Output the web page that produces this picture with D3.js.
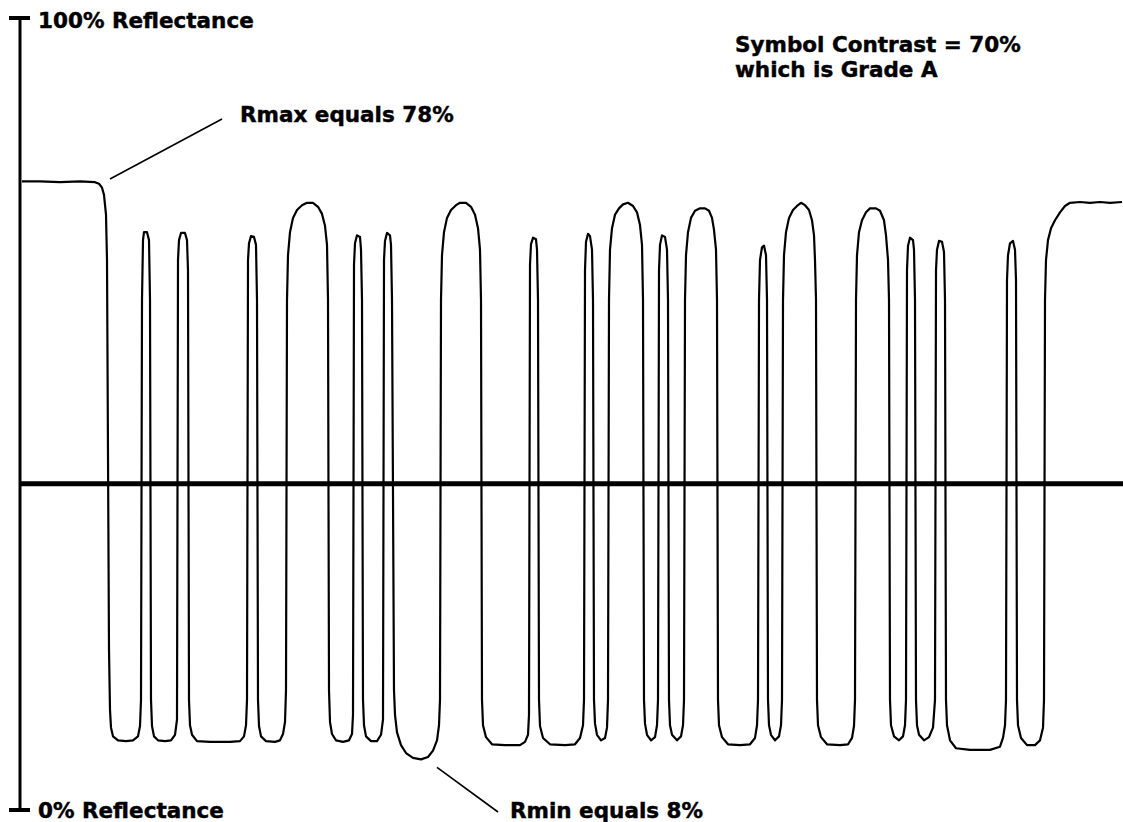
<!DOCTYPE html>
<html>
<head>
<meta charset="utf-8">
<script src="https://cdn.jsdelivr.net/npm/d3@7"></script>
<style>
  html, body { margin: 0; padding: 0; background: #fff; }
  svg { display: block; }
  text { font-family: "DejaVu Sans", Verdana, sans-serif; font-weight: bold; fill: #000; stroke: #000; stroke-width: 0.45px; }
</style>
</head>
<body>
<svg id="chart" width="1123" height="822"></svg>
<script>
// ---- Data ----
// Scan position (samples along the scan line) vs reflectance (%)
const scanProfile = [
  [2,79.3],[20,79.3],[40,79.2],[60,79.3],[75,79.2],[79,79.0],[82,78.5],[84,77.6],[86,75.1],[87,69.4],
  [89,20.3],[90,12.7],[91,10.5],[93,9.4],[98,8.9],[106,8.8],[113,8.9],[118,9.4],[120,10.7],[121,14.0],
  [122,64.4],[123,71.9],[124,72.9],[127,72.9],[129,71.9],[130,64.4],[131,14.0],[132,10.7],[134,9.4],[138,8.9],
  [145,8.8],[151,8.9],[155,9.6],[157,11.5],
  [158,69.4],[159,71.9],[161,72.8],[165,72.8],[167,71.9],[168,68.1],[169,14.0],[170,10.8],[172,9.6],[177,8.8],
  [190,8.7],[210,8.7],[220,8.8],[224,9.4],[226,10.8],[227,14.0],
  [228,69.4],[229,71.5],[231,72.4],[234,72.3],[236,71.3],[237,64.4],[238,14.0],[239,10.7],[241,9.4],[246,8.8],
  [255,8.7],[260,8.9],[263,9.7],[265,11.2],[266,15.2],
  [267,64.4],[268,70.0],[270,72.9],[273,74.7],[277,75.7],[282,76.3],[287,76.6],[293,76.6],[298,76.1],[302,75.2],
  [305,73.7],[307,71.3],[308,64.4],[309,15.2],[310,11.2],[312,9.7],[316,8.9],[323,8.7],[329,8.9],[332,9.7],[333,12.1],
  [334,68.8],[335,71.5],[337,72.5],[340,72.3],[341,70.7],[342,64.4],[343,14.0],[344,10.8],[346,9.4],[351,8.8],
  [357,8.8],[361,9.6],[363,11.5],
  [364,69.4],[365,71.8],[367,72.8],[370,72.5],[371,71.3],[372,64.4],[374,15.2],[375,12.1],[377,9.9],[381,8.3],
  [386,7.3],[393,6.7],[401,6.5],[408,6.8],[413,7.6],[417,8.9],[419,10.8],[420,14.0],
  [421,64.4],[422,70.0],[424,72.9],[427,74.7],[431,75.7],[436,76.3],[440,76.6],[446,76.6],[451,76.1],[455,75.1],
  [458,73.4],[460,70.7],[461,64.4],[462,14.0],[463,10.8],[466,9.3],[472,8.4],[485,8.3],[500,8.3],[505,8.7],
  [508,9.6],[509,12.1],
  [510,68.8],[511,71.4],[513,72.2],[516,72.0],[517,70.7],[518,64.4],[519,14.0],[520,10.7],[523,9.2],[530,8.4],
  [545,8.3],[555,8.4],[560,9.2],[563,10.8],[564,14.0],
  [565,68.1],[566,71.7],[568,72.7],[570,72.4],[572,70.7],[573,64.4],[574,14.0],[575,11.0],[577,9.6],[581,8.9],
  [585,9.2],[587,10.5],[588,14.0],
  [589,64.4],[590,70.7],[592,73.4],[595,75.1],[599,75.9],[603,76.4],[608,76.6],[613,76.2],[617,75.4],[620,73.8],
  [622,71.3],[623,64.4],[624,14.0],[625,11.0],[627,9.6],[631,8.9],[635,9.3],[637,10.8],[638,14.0],
  [639,68.1],[640,71.3],[642,72.5],[645,72.3],[647,70.7],[648,64.4],[649,14.0],[650,10.8],[652,9.6],[657,8.9],
  [661,9.4],[663,10.8],[664,14.0],
  [665,64.4],[666,70.0],[668,72.9],[671,74.7],[675,75.6],[680,75.9],[685,75.9],[689,75.6],[692,74.7],[694,73.2],
  [696,70.7],[697,64.4],[698,14.0],[699,10.8],[702,9.3],[708,8.4],[720,8.3],[730,8.4],[735,9.2],[737,10.8],[738,14.0],
  [739,64.4],[740,69.4],[742,71.0],[744,71.2],[746,70.0],[747,64.4],[748,14.0],[749,10.8],[751,9.6],[755,8.9],
  [759,9.4],[761,10.8],[762,14.0],
  [763,64.4],[764,70.0],[766,72.9],[769,74.7],[773,75.7],[777,76.2],[781,76.6],[785,76.3],[789,75.7],[792,74.4],
  [794,72.5],[795,69.4],[796,64.4],[797,14.0],[798,10.8],[801,9.3],[807,8.4],[820,8.3],[828,8.4],[832,9.2],
  [834,10.7],[835,14.0],
  [836,64.4],[837,70.0],[839,72.9],[842,74.4],[846,75.4],[850,75.9],[856,75.9],[860,75.6],[864,74.4],[866,72.5],
  [868,69.4],[869,64.4],[870,14.0],[871,10.8],[874,9.4],[879,8.9],[883,9.4],[885,10.8],[886,14.0],
  [887,68.1],[888,71.2],[890,72.2],[893,71.9],[894,70.7],[895,64.4],[896,14.0],[897,10.8],[899,9.6],[904,8.9],
  [909,9.3],[913,10.5],[915,14.0],
  [916,68.1],[917,70.7],[919,71.8],[922,71.7],[924,70.4],[925,64.4],[926,14.0],[927,10.8],[930,8.9],[936,7.9],
  [950,7.7],[970,7.7],[980,8.1],[983,9.2],[985,10.8],[986,14.0],
  [987,66.9],[988,70.0],[990,71.5],[993,71.8],[995,70.7],[996,66.9],[997,14.0],[998,10.8],[1001,9.2],[1007,8.3],
  [1015,8.3],[1020,8.9],[1023,10.5],[1024,14.0],
  [1025,64.4],[1026,69.4],[1028,71.9],[1031,73.4],[1035,74.4],[1040,75.4],[1045,76.2],[1050,76.6],[1060,76.7],
  [1070,76.6],[1080,76.7],[1090,76.6],[1102,76.7]
];

const axisTicks = [100, 0];
const axisTickLabels = ["100% Reflectance", "0% Reflectance"];
const threshold = 41.2;           // global threshold line (%)
const rmaxPoint = [90, 79.6];     // where the Rmax pointer touches the profile
const rminPoint = [417, 5.5];     // where the Rmin pointer touches the profile
const rmaxLabel = "Rmax equals 78%";
const rminLabel = "Rmin equals 8%";
const contrastLines = ["Symbol Contrast = 70%", "which is Grade A"];

// ---- Scales ----
const svg = d3.select("#chart");
const x = d3.scaleLinear().domain([0, 1103]).range([20, 1123]);
const y = d3.scaleLinear().domain([0, 100]).range([811, 17]);
const FS = 21.5;

// ---- Vertical axis with T tick ends ----
svg.append("line")
  .attr("x1", x(0)).attr("x2", x(0))
  .attr("y1", y(100)).attr("y2", y(0))
  .attr("stroke", "#000").attr("stroke-width", 3);

svg.selectAll("line.tick").data(axisTicks).join("line")
  .attr("class", "tick")
  .attr("x1", x(0) - 11).attr("x2", x(0) + 10)
  .attr("y1", d => y(d) + (d === 100 ? 1 : -1))
  .attr("y2", d => y(d) + (d === 100 ? 1 : -1))
  .attr("stroke", "#000").attr("stroke-width", 4);

svg.selectAll("text.ticklab").data(axisTicks).join("text")
  .attr("class", "ticklab")
  .attr("x", x(0) + 18)
  .attr("y", (d, i) => i === 0 ? 28 : 818)
  .attr("font-size", FS)
  .text((d, i) => axisTickLabels[i]);

// ---- Threshold line ----
svg.append("line")
  .attr("x1", x(0)).attr("x2", x(1103))
  .attr("y1", y(threshold)).attr("y2", y(threshold))
  .attr("stroke", "#000").attr("stroke-width", 5);

// ---- Reflectance profile ----
const line = d3.line()
  .x(d => x(d[0]))
  .y(d => y(d[1]))
  .curve(d3.curveLinear);

svg.append("path")
  .datum(scanProfile)
  .attr("d", line)
  .attr("fill", "none")
  .attr("stroke", "#000")
  .attr("stroke-width", 2.2)
  .attr("stroke-linejoin", "round");

// ---- Annotations ----
svg.append("line")
  .attr("x1", x(rmaxPoint[0])).attr("y1", y(rmaxPoint[1]))
  .attr("x2", 222).attr("y2", 119)
  .attr("stroke", "#000").attr("stroke-width", 1.6);

svg.append("text")
  .attr("x", 240).attr("y", 122)
  .attr("font-size", FS)
  .text(rmaxLabel);

svg.append("line")
  .attr("x1", x(rminPoint[0])).attr("y1", y(rminPoint[1]))
  .attr("x2", 498).attr("y2", 812)
  .attr("stroke", "#000").attr("stroke-width", 1.6);

svg.append("text")
  .attr("x", 510).attr("y", 818)
  .attr("font-size", FS)
  .text(rminLabel);

svg.selectAll("text.contrast").data(contrastLines).join("text")
  .attr("class", "contrast")
  .attr("x", 735)
  .attr("y", (d, i) => 52 + i * 25)
  .attr("font-size", FS)
  .text(d => d);
</script>
</body>
</html>
